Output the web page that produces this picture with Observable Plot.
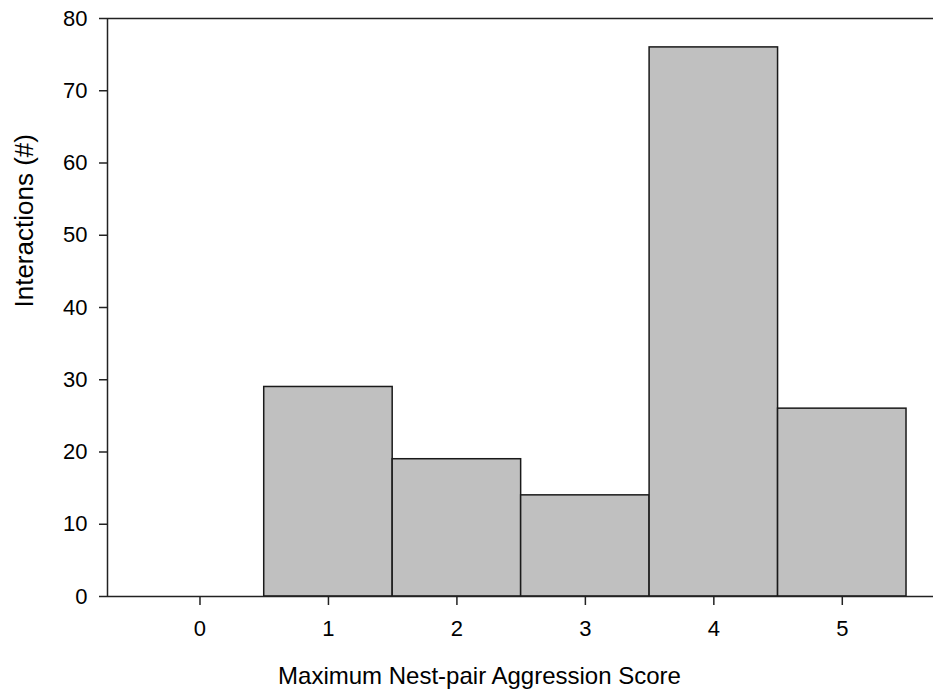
<!DOCTYPE html>
<html>
<head>
<meta charset="utf-8">
<script src="https://cdn.jsdelivr.net/npm/d3@7"></script>
<script src="https://cdn.jsdelivr.net/npm/@observablehq/plot@0.6"></script>
<style>
  html, body { margin: 0; padding: 0; background: #fff; }
  #chart svg { display: block; }
</style>
</head>
<body>
<div id="chart"></div>
<script>
const scores = [0, 1, 2, 3, 4, 5];
const counts = [0, 29, 19, 14, 76, 26];
const yTicks = [0, 10, 20, 30, 40, 50, 60, 70, 80];
const xLabel = "Maximum Nest-pair Aggression Score";
const yLabel = "Interactions (#)";

const data = scores.map((s, i) => ({score: s, count: counts[i]}));
const font = "'Liberation Sans', Arial, sans-serif";

const chart = Plot.plot({
  width: 933,
  height: 692,
  marginLeft: 107,
  marginRight: 0,
  marginTop: 18,
  marginBottom: 96,
  style: {fontFamily: font, background: "#fff", color: "#000"},
  x: {domain: [-0.72, 5.71]},
  y: {domain: [0, 80]},
  marks: [
    Plot.rectY(data, {
      x1: d => d.score - 0.5,
      x2: d => d.score + 0.5,
      y: "count",
      fill: "#c0c0c0",
      stroke: "#1a1a1a",
      strokeWidth: 1.5
    }),
    Plot.ruleY([0], {stroke: "#222", strokeWidth: 1.5}),
    Plot.ruleY([80], {stroke: "#222", strokeWidth: 1.5}),
    Plot.ruleX([-0.72], {stroke: "#222", strokeWidth: 1.5}),
    Plot.axisX({ticks: scores, tickSize: 9, tickPadding: 15, tickFormat: d => d, fontSize: 22, label: null, stroke: "#222", strokeWidth: 1.5}),
    Plot.axisY({ticks: yTicks, tickSize: 8, tickPadding: 12, fontSize: 22, label: null, stroke: "#222", strokeWidth: 1.5}),
    Plot.text([xLabel], {frameAnchor: "bottom", dx: -41, dy: 87, fontSize: 24, fill: "#000"}),
    Plot.text([yLabel], {frameAnchor: "left", dx: -83, rotate: -90, fontSize: 26, fill: "#000"})
  ]
});
document.getElementById("chart").appendChild(chart);
</script>
</body>
</html>
